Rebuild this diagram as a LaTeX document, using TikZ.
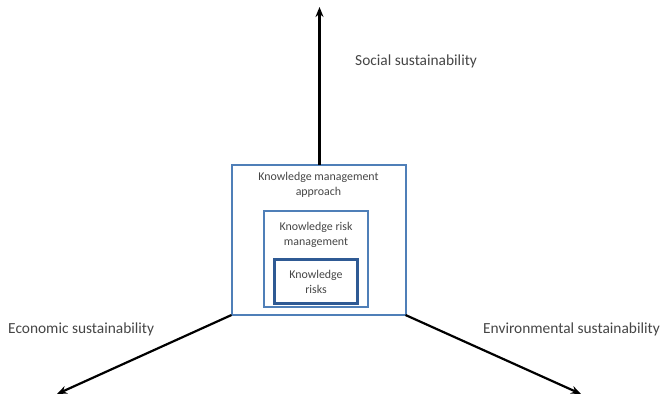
\documentclass[tikz,border=0pt]{standalone}
\usepackage{fontspec}
\setmainfont{Carlito}
\usetikzlibrary{arrows.meta}
\definecolor{boxblue}{HTML}{4F7FB8}
\definecolor{darkblue}{HTML}{2F5A94}
\definecolor{txtgray}{HTML}{454545}
\tikzset{
  axis/.style={line width=2.2pt, -{Stealth[length=10pt,width=8pt]}},
  outerbox/.style={draw=boxblue, line width=2pt},
  innerbox/.style={draw=darkblue, line width=2.8pt},
  lbl/.style={text=txtgray, font=\fontsize{15.4}{17}\selectfont, inner sep=0pt},
  boxlbl/.style={text=txtgray, font=\fontsize{11.9}{15}\selectfont, align=center, inner sep=0pt}
}
\begin{document}
\begin{tikzpicture}[x=1pt,y=-1pt]
\useasboundingbox (0,0) rectangle (661,399);
% boxes
\coordinate (otl) at (231.5,165);
\coordinate (obr) at (405.5,315);
\coordinate (obl) at (231.5,315);
\coordinate (otop) at (319.5,165);
\draw[outerbox] (otl) rectangle (obr);
\draw[outerbox] (264,211) rectangle (368,307);
\draw[innerbox] (274.5,259.5) rectangle (357.5,303.5);
\node[boxlbl] (kma) at (318.5,184.5) {Knowledge management\\approach};
\node[boxlbl] (krm) at (316,234.5) {Knowledge risk\\management};
\node[boxlbl] (kr) at (316,282) {Knowledge\\risks};
% axes
\coordinate (up) at (319.5,7);
\coordinate (left) at (57,394);
\coordinate (right) at (581,394);
\draw[axis] (otop) -- (up);
\draw[axis] (obl) -- (left);
\draw[axis] (obr) -- (right);
% labels
\node[lbl, anchor=west] (soc) at (355,61) {Social sustainability};
\node[lbl, anchor=west] (eco) at (8,329) {Economic sustainability};
\node[lbl, anchor=west] (env) at (483,329) {Environmental sustainability};
\end{tikzpicture}
\end{document}
